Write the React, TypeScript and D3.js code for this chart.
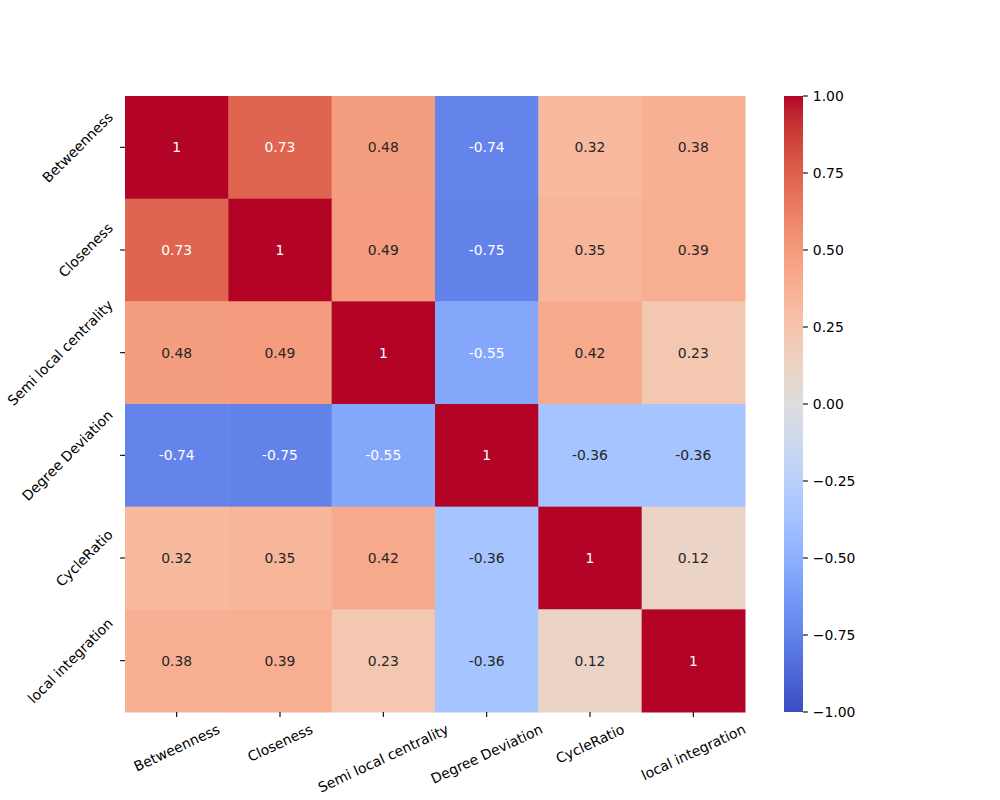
import { useEffect, useRef } from "react";
import * as d3 from "d3";

const labels = [
  "Betweenness",
  "Closeness",
  "Semi local centrality",
  "Degree Deviation",
  "CycleRatio",
  "local integration",
];

const row0 = [1, 0.73, 0.48, -0.74, 0.32, 0.38];
const row1 = [0.73, 1, 0.49, -0.75, 0.35, 0.39];
const row2 = [0.48, 0.49, 1, -0.55, 0.42, 0.23];
const row3 = [-0.74, -0.75, -0.55, 1, -0.36, -0.36];
const row4 = [0.32, 0.35, 0.42, -0.36, 1, 0.12];
const row5 = [0.38, 0.39, 0.23, -0.36, 0.12, 1];
const matrix = [row0, row1, row2, row3, row4, row5];

const cbarTicks = [1, 0.75, 0.5, 0.25, 0, -0.25, -0.5, -0.75, -1];

// matplotlib coolwarm, 33 samples
const coolwarm = [
  [59, 76, 192], [68, 90, 204], [77, 104, 215], [87, 117, 225], [98, 130, 234],
  [108, 142, 241], [119, 154, 247], [130, 165, 251], [141, 176, 254], [152, 185, 255],
  [163, 194, 255], [174, 201, 253], [184, 208, 249], [194, 213, 244], [204, 217, 238],
  [213, 219, 230], [221, 221, 221], [229, 216, 209], [236, 211, 197], [241, 204, 185],
  [245, 196, 173], [247, 187, 160], [247, 177, 148], [247, 166, 135], [244, 154, 123],
  [241, 141, 111], [236, 127, 99], [229, 112, 88], [222, 96, 77], [213, 80, 66],
  [203, 62, 56], [192, 40, 47], [180, 4, 38],
].map(([r, g, b]) => d3.rgb(r, g, b).formatHex());

const interp = d3.piecewise(d3.interpolateRgb, coolwarm);
const color = (v: number) => interp((v + 1) / 2);

const luminance = (c: string) => {
  const rgb = d3.rgb(c);
  const lin = (x: number) => {
    const s = x / 255;
    return s <= 0.03928 ? s / 12.92 : Math.pow((s + 0.055) / 1.055, 2.4);
  };
  return 0.2126 * lin(rgb.r) + 0.7152 * lin(rgb.g) + 0.0722 * lin(rgb.b);
};

const FONT = "DejaVu Sans, sans-serif";
const FS = 13.9;

const App = () => {
  const svgRef = useRef<SVGSVGElement>(null);

  useEffect(() => {
    if (!svgRef.current) return;
    const svg = d3.select(svgRef.current);
    svg.selectAll("*").remove();

    const left = 125, right = 745, top = 96, bottom = 712;
    const x = d3.scaleBand<string>().domain(labels).range([left, right]);
    const y = d3.scaleBand<string>().domain(labels).range([top, bottom]);

    const cells: { r: number; c: number; v: number }[] = [];
    matrix.forEach((row, r) => row.forEach((v, c) => cells.push({ r, c, v })));

    svg
      .append("g")
      .selectAll("rect")
      .data(cells)
      .join("rect")
      .attr("x", (d) => x(labels[d.c])!)
      .attr("y", (d) => y(labels[d.r])!)
      .attr("width", x.bandwidth() + 0.5)
      .attr("height", y.bandwidth() + 0.5)
      .attr("fill", (d) => color(d.v));

    svg
      .append("g")
      .selectAll("text")
      .data(cells)
      .join("text")
      .attr("x", (d) => x(labels[d.c])! + x.bandwidth() / 2)
      .attr("y", (d) => y(labels[d.r])! + y.bandwidth() / 2)
      .attr("text-anchor", "middle")
      .attr("dominant-baseline", "central")
      .attr("font-family", FONT)
      .attr("font-size", FS)
      .attr("fill", (d) => (luminance(color(d.v)) > 0.408 ? "#262626" : "#ffffff"))
      .text((d) => String(+d.v.toFixed(2)));

    // y axis ticks + labels
    const yAxis = svg.append("g");
    labels.forEach((lab) => {
      const cy = y(lab)! + y.bandwidth() / 2;
      yAxis
        .append("line")
        .attr("x1", left - 4.9)
        .attr("x2", left)
        .attr("y1", cy)
        .attr("y2", cy)
        .attr("stroke", "#000")
        .attr("stroke-width", 1.1);
      const t = yAxis
        .append("text")
        .attr("font-family", FONT)
        .attr("font-size", FS)
        .attr("text-anchor", "middle")
        .attr("dominant-baseline", "central")
        .text(lab);
      const L = (t.node() as SVGTextElement).getComputedTextLength();
      const a = Math.PI / 4;
      const W = L * Math.cos(a) + FS * Math.sin(a);
      const cx = left - 9.8 - W / 2;
      t.attr("transform", `translate(${cx},${cy}) rotate(-45)`);
    });

    // x axis ticks + labels
    const xAxis = svg.append("g");
    labels.forEach((lab) => {
      const cx = x(lab)! + x.bandwidth() / 2;
      xAxis
        .append("line")
        .attr("x1", cx)
        .attr("x2", cx)
        .attr("y1", bottom)
        .attr("y2", bottom + 4.9)
        .attr("stroke", "#000")
        .attr("stroke-width", 1.1);
      const t = xAxis
        .append("text")
        .attr("font-family", FONT)
        .attr("font-size", FS)
        .attr("text-anchor", "middle")
        .attr("dominant-baseline", "central")
        .text(lab);
      const L = (t.node() as SVGTextElement).getComputedTextLength();
      const a = (25 * Math.PI) / 180;
      const H = L * Math.sin(a) + FS * Math.cos(a);
      const cy = bottom + 9.8 + H / 2;
      t.attr("transform", `translate(${cx},${cy}) rotate(-25)`);
    });

    // colorbar
    const cbX = 784, cbW = 19;
    const cy = d3.scaleLinear().domain([-1, 1]).range([bottom, top]);
    const defs = svg.append("defs");
    const grad = defs
      .append("linearGradient")
      .attr("id", "cw")
      .attr("x1", 0)
      .attr("y1", 1)
      .attr("x2", 0)
      .attr("y2", 0);
    coolwarm.forEach((c, i) => {
      grad
        .append("stop")
        .attr("offset", i / (coolwarm.length - 1))
        .attr("stop-color", c);
    });
    svg
      .append("rect")
      .attr("x", cbX)
      .attr("y", top)
      .attr("width", cbW)
      .attr("height", bottom - top)
      .attr("fill", "url(#cw)");

    const cbAxis = svg.append("g");
    cbarTicks.forEach((v) => {
      const ty = cy(v);
      cbAxis
        .append("line")
        .attr("x1", cbX + cbW)
        .attr("x2", cbX + cbW + 4.9)
        .attr("y1", ty)
        .attr("y2", ty)
        .attr("stroke", "#000")
        .attr("stroke-width", 1.1);
      cbAxis
        .append("text")
        .attr("x", cbX + cbW + 9.8)
        .attr("y", ty)
        .attr("dominant-baseline", "central")
        .attr("font-family", FONT)
        .attr("font-size", FS)
        .text(d3.format(".2f")(v).replace("-", "\u2212"));
    });
  }, []);

  return (
    <svg
      ref={svgRef}
      width={1000}
      height={800}
      style={{ position: "absolute", left: 0, top: 0, background: "#fff" }}
    />
  );
};

export default App;
